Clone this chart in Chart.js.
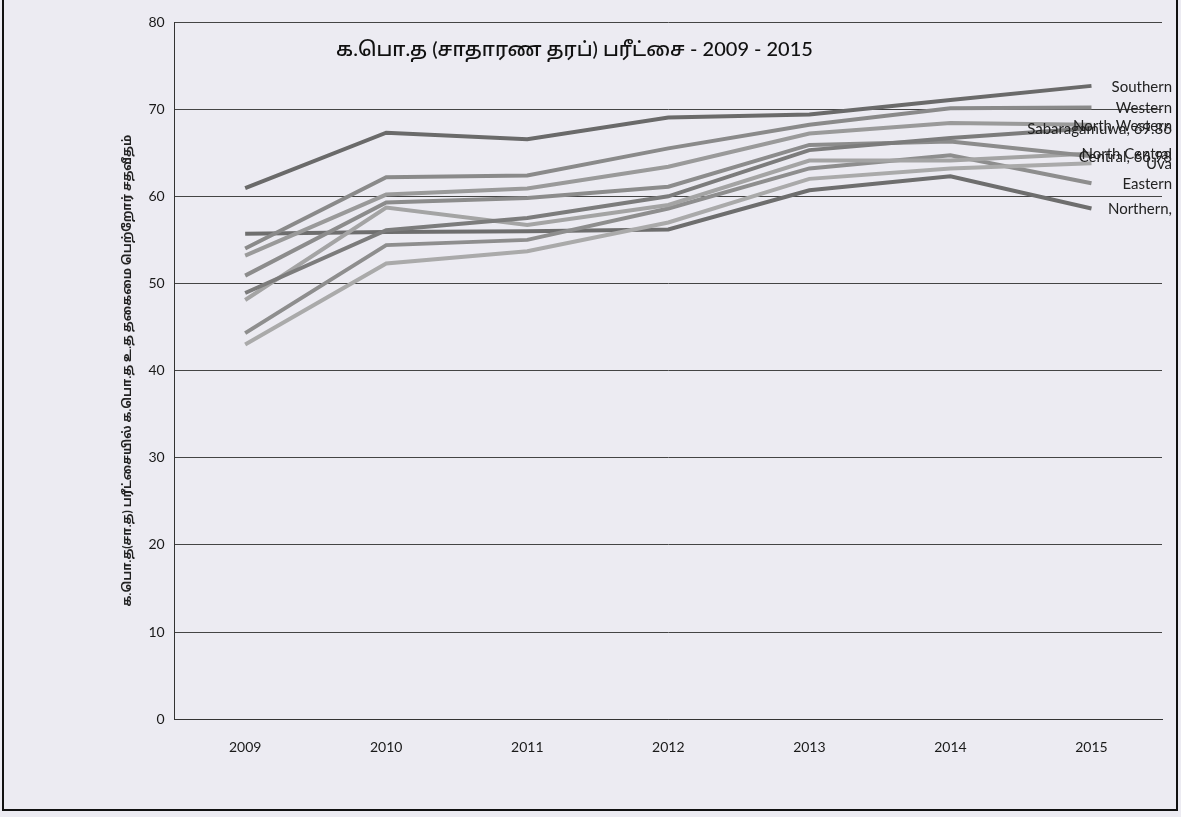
<!DOCTYPE html>
<html>
<head>
<meta charset="utf-8">
<script src="https://cdn.jsdelivr.net/npm/chart.js@4"></script>
<style>
  html, body { margin: 0; padding: 0; background: #ecebf2; }
  #wrap { width: 1181px; height: 817px; position: relative; }
</style>
</head>
<body>
<div id="wrap"><canvas id="myChart" width="1181" height="817"></canvas></div>
<script>
// Tahun (kategori)
const years = ['2009', '2010', '2011', '2012', '2013', '2014', '2015'];

// Nilai per provinsi
const southern     = [60.93, 67.30, 66.56, 69.03, 69.4, 71.06, 72.67];
const western      = [54.0, 62.2, 62.4, 65.5, 68.2, 70.1, 70.2];
const northWestern = [53.2, 60.2, 60.9, 63.4, 67.2, 68.4, 68.2];
const sabaragamuwa = [48.9, 56.1, 57.5, 60.0, 65.3, 66.7, 67.8];
const central      = [50.9, 59.3, 59.8, 61.1, 65.9, 66.3, 64.6];
const northCentral = [48.1, 58.7, 56.7, 59.0, 64.1, 64.1, 64.9];
const uva          = [43.0, 52.3, 53.7, 57.0, 62.0, 63.2, 63.8];
const eastern      = [44.3, 54.4, 55.0, 58.6, 63.2, 64.7, 61.5];
const northern     = [55.7, 55.9, 56.0, 56.2, 60.7, 62.3, 58.6];

// Label di ujung garis
const endLabels = ['Southern', 'Western', 'North Western', 'Sabaragamuwa, 69.86',
  'Central, 66.98', 'North Central', 'Uva', 'Eastern', 'Northern,'];

const yTicks = [0, 10, 20, 30, 40, 50, 60, 70, 80];

const chartTitle = 'க.பொ.த (சாதாரண தரப்) பரீட்சை - 2009 - 2015';
const yTitle = 'க.பொ.த(சா.த) பரீட்சையில் க.பொ.த உ.த தகைமை பெற்றோர் சதவீதம்';

const FONT = "Lato, 'Noto Sans Tamil', 'Noto Sans', sans-serif";

function makeLine(label, data, color) {
  return {
    label: label,
    data: data,
    borderColor: color,
    backgroundColor: color,
    borderWidth: 4,
    tension: 0,
    fill: false,
    pointRadius: 0,
  };
}

// Judul dan label ujung digambar manual
const extras = {
  id: 'extras',
  afterDatasetsDraw(chart) {
    const { ctx, chartArea, scales } = chart;
    ctx.save();
    ctx.font = '15px ' + FONT;
    ctx.fillStyle = '#222';
    ctx.textAlign = 'right';
    ctx.textBaseline = 'middle';
    chart.data.datasets.forEach((ds, i) => {
      const last = ds.data[ds.data.length - 1];
      const y = scales.y.getPixelForValue(last);
      ctx.fillText(endLabels[i], chart.width - 9, y + 1);
    });
    ctx.font = '500 20px ' + FONT;
    ctx.fillStyle = '#111';
    ctx.textAlign = 'center';
    const tx = chartArea.left + (chartArea.right - chartArea.left) * 0.405;
    ctx.fillText(chartTitle, tx, chartArea.top + 28);

    // bingkai luar
    ctx.strokeStyle = '#111';
    ctx.lineWidth = 2;
    ctx.beginPath();
    ctx.moveTo(3, 0);
    ctx.lineTo(3, chart.height - 7);
    ctx.lineTo(chart.width - 4, chart.height - 7);
    ctx.lineTo(chart.width - 4, 0);
    ctx.stroke();
    ctx.restore();
  }
};

const ctx = document.getElementById('myChart').getContext('2d');
const chart = new Chart(ctx, {
  type: 'line',
  data: {
    labels: years,
    datasets: [
      makeLine('Southern', southern, '#6a6a6a'),
      makeLine('Western', western, '#8a8a8a'),
      makeLine('North Western', northWestern, '#9a9a9a'),
      makeLine('Sabaragamuwa', sabaragamuwa, '#7c7c7c'),
      makeLine('Central', central, '#8c8c8c'),
      makeLine('North Central', northCentral, '#a4a4a4'),
      makeLine('Uva', uva, '#aaaaaa'),
      makeLine('Eastern', eastern, '#8e8e8e'),
      makeLine('Northern', northern, '#6e6e6e'),
    ]
  },
  options: {
    responsive: false,
    animation: false,
    layout: { padding: { left: 116, right: 19, top: 22, bottom: 41 } },
    plugins: {
      legend: { display: false },
      tooltip: { enabled: false },
      title: { display: false }
    },
    scales: {
      x: {
        offset: true,
        grid: { display: false, drawTicks: false },
        border: { color: '#333', width: 1 },
        ticks: { color: '#1a1a1a', font: { size: 14, family: FONT }, padding: 20, maxRotation: 0 }
      },
      y: {
        min: 0,
        max: 80,
        afterBuildTicks: (axis) => { axis.ticks = yTicks.map(v => ({ value: v })); },
        grid: { color: '#444', lineWidth: 1, drawTicks: false },
        border: { color: '#333', width: 1 },
        ticks: { color: '#1a1a1a', font: { size: 14, family: FONT }, padding: 10 },
        title: {
          display: true,
          text: yTitle,
          color: '#222',
          font: { size: 12, weight: 'bold', family: FONT },
          padding: { top: 4, bottom: 4 }
        }
      }
    }
  },
  plugins: [extras]
});
</script>
</body>
</html>
